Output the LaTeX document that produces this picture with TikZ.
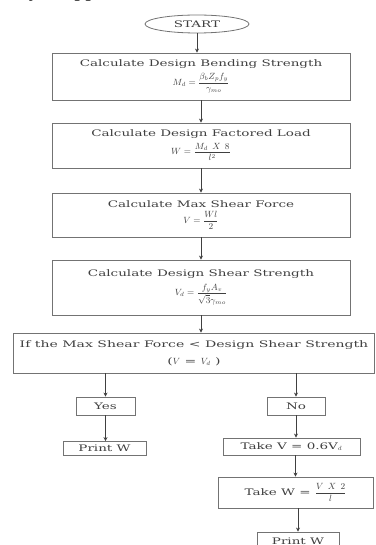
\documentclass[tikz,border=0pt]{standalone}
\usepackage{fontspec}
\setmainfont{DejaVu Serif}[FakeStretch=1.5]
\newfontfamily\widefont{DejaVu Serif}[FakeStretch=1.56]
\newfontfamily\captionfont{Liberation Serif}
\usetikzlibrary{arrows.meta, shapes.geometric}
\begin{document}
\begin{tikzpicture}[x=1pt, y=-1pt,
    block/.style={draw=black!55, line width=0.8pt, text=black!75, align=center,
      inner sep=0pt, font=\fontsize{9}{11}\selectfont},
    wide/.style={block, minimum width=298},
    flow/.style={-{Stealth[length=4pt, width=4pt]}, black!75, line width=0.7pt},
    cut/.style={font=\captionfont\itshape\fontsize{22}{22}\selectfont, inner sep=0pt, anchor=base west}]
    \useasboundingbox (0,0) rectangle (375,545);
    \clip (0,0) rectangle (375,545);

    % cut-off caption above the chart
    \node[cut] (capy) at (31,-3.5) {y};
    \node[cut] (capp) at (76,-3.5) {pp};

    % Main column
    \node[block, ellipse, minimum width=104, minimum height=18] (start) at (197,24) {START};
    \node[wide, minimum height=47] (bend) at (201,76.5)
      {Calculate Design Bending Strength\\[3pt] $M_d = \displaystyle\frac{\beta_b Z_p f_y}{\gamma_{mo}}$};
    \node[wide, minimum height=45] (load) at (201,145.5)
      {Calculate Design Factored Load\\[3pt] $W = \displaystyle\frac{M_d\ X\ 8}{l^2}$};
    \node[wide, minimum height=44] (shear) at (201,215)
      {Calculate Max Shear Force\\[3pt] $V = \displaystyle\frac{Wl}{2}$};
    \node[wide, minimum height=55] (vd) at (201,287.5)
      {Calculate Design Shear Strength\\[4pt] $V_d = \displaystyle\frac{f_y A_v}{\sqrt{3}\gamma_{mo}}$};
    \node[block, font=\widefont\fontsize{9}{11}\selectfont, minimum width=361, minimum height=40] (check) at (194,353)
      {If the Max Shear Force < Design Shear Strength\\[6pt] ($V$ = $V_d$ )};

    % Yes branch
    \node[block, minimum width=59, minimum height=18] (yes) at (105.5,406) {Yes};
    \node[block, minimum width=83, minimum height=14] (printa) at (104.5,448.5) {Print W};

    % No branch
    \node[block, minimum width=58, minimum height=18] (no) at (296,406) {No};
    \node[block, minimum width=137, minimum height=17] (takev) at (291.5,446.5) {Take V = 0.6V$_d$};
    \node[block, minimum width=155, minimum height=31] (takew) at (295.5,492.5)
      {Take W = $\displaystyle\frac{V\ X\ 2}{l}$};
    \node[block, minimum width=82, minimum height=18] (printb) at (298,541) {Print W};

    % Connectors
    \draw[flow] (start.south) -- (start.south |- bend.north);
    \draw[flow] (bend) -- (load);
    \draw[flow] (load) -- (shear);
    \draw[flow] (shear) -- (vd);
    \draw[flow] (vd.south) -- (vd.south |- check.north);
    \draw[flow] (check.south -| yes.north) -- (yes.north);
    \draw[flow] (check.south -| no.north) -- (no.north);
    \draw[flow] (yes.south) -- (yes.south |- printa.north);
    \draw[flow] (no.south) -- (no.south |- takev.north);
    \draw[flow] (takew.north |- takev.south) -- (takew.north);
    \draw[flow] (takew.south -| printb.north) -- (printb.north);
  \end{tikzpicture}
\end{document}
